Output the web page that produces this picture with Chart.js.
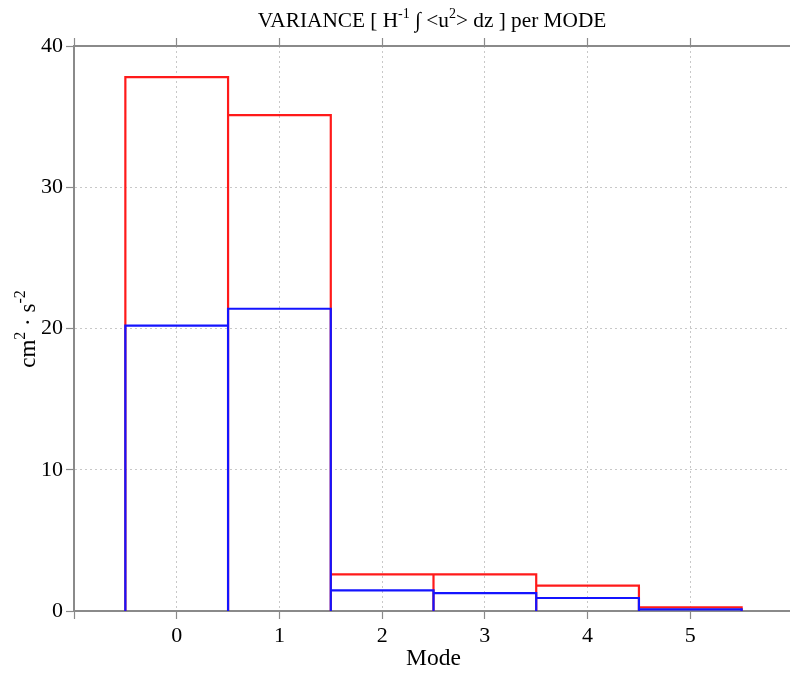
<!DOCTYPE html>
<html lang="en">
<head>
    <meta charset="UTF-8">
    <title>Variance per mode</title>
    <style>
        body {
            margin: 0;
            background: white;
            overflow: hidden;
        }
        canvas {
            display: block;
        }
    </style>
    <script src="https://cdn.jsdelivr.net/npm/chart.js"></script>
</head>
<body>
    <canvas id="modeChart" width="800" height="673"></canvas>

    <script>
        // variance per vertical mode (cm^2 s^-2)
        const modes = [0, 1, 2, 3, 4, 5];
        const totalVariance = [37.8, 35.1, 2.6, 2.6, 1.8, 0.26];
        const partialVariance = [20.2, 21.4, 1.46, 1.27, 0.92, 0.12];
        const yTicks = [0, 10, 20, 30, 40];

        const serif = "'Liberation Serif', 'DejaVu Serif', serif";
        const axisGrey = '#8a8a8a';

        // each bin drawn as an open box: left edge, top, right edge, then a gap
        function binOutlines(values) {
            const pts = [];
            values.forEach((v, i) => {
                const lo = modes[i] - 0.5, hi = modes[i] + 0.5;
                pts.push({ x: lo, y: 0 }, { x: lo, y: v }, { x: hi, y: v }, { x: hi, y: 0 });
                pts.push({ x: hi, y: null });
            });
            return pts;
        }

        // draws a string made of normal and superscript parts
        function drawRich(ctx, parts, x, y, size) {
            const supSize = Math.round(size * 0.68);
            let total = 0;
            parts.forEach(p => {
                ctx.font = (p.sup ? supSize : size) + 'px ' + serif;
                p.w = ctx.measureText(p.t).width;
                total += p.w;
            });
            let cx = x - total / 2;
            ctx.textBaseline = 'alphabetic';
            ctx.textAlign = 'left';
            parts.forEach(p => {
                ctx.font = (p.sup ? supSize : size) + 'px ' + serif;
                ctx.fillText(p.t, cx, p.sup ? y - size * 0.42 : y);
                cx += p.w;
            });
        }

        const labelsPlugin = {
            id: 'richLabels',
            afterDraw(chart) {
                const ctx = chart.ctx;
                ctx.save();
                ctx.fillStyle = '#000';
                drawRich(ctx, [
                    { t: 'VARIANCE [ H' }, { t: '-1', sup: true },
                    { t: ' \u222B <u' }, { t: '2', sup: true },
                    { t: '> dz ] per MODE' }
                ], 432, 27, 21.3);

                ctx.translate(35, 329);
                ctx.rotate(-Math.PI / 2);
                drawRich(ctx, [
                    { t: 'cm' }, { t: '2', sup: true },
                    { t: ' \u00B7 s' }, { t: '-2', sup: true }
                ], 0, 0, 23);
                ctx.restore();
            }
        };

        const lineStyle = {
            borderWidth: 2.2,
            pointRadius: 0,
            fill: false,
            tension: 0,
            spanGaps: false,
            clip: false
        };

        const ctx = document.getElementById('modeChart').getContext('2d');
        new Chart(ctx, {
            type: 'line',
            data: {
                datasets: [
                    Object.assign({
                        label: 'partial',
                        data: binOutlines(partialVariance),
                        borderColor: '#1414ff',
                        order: 0
                    }, lineStyle),
                    Object.assign({
                        label: 'total',
                        data: binOutlines(totalVariance),
                        borderColor: '#ff1a1a',
                        order: 1
                    }, lineStyle)
                ]
            },
            options: {
                responsive: false,
                animation: false,
                layout: { padding: { left: 0, right: 7, top: 0, bottom: 0 } },
                plugins: {
                    legend: { display: false },
                    tooltip: { enabled: false }
                },
                scales: {
                    x: {
                        type: 'linear',
                        position: 'bottom',
                        min: -1,
                        max: 6,
                        afterFit: s => { s.height = 62; },
                        ticks: {
                            stepSize: 1,
                            autoSkip: false,
                            maxRotation: 0,
                            padding: 4,
                            color: '#000',
                            font: { family: serif, size: 22 },
                            callback: v => (modes.includes(v) ? String(v) : '')
                        },
                        grid: {
                            color: '#c8c8c8',
                            tickColor: axisGrey,
                            tickLength: 8,
                            tickWidth: 1.2
                        },
                        border: { color: axisGrey, width: 2, dash: [2, 3] },
                        title: {
                            display: true,
                            text: 'Mode',
                            color: '#000',
                            font: { family: serif, size: 23.5 },
                            padding: { top: 0, bottom: 0 }
                        }
                    },
                    xTop: {
                        type: 'linear',
                        position: 'top',
                        min: -1,
                        max: 6,
                        afterFit: s => { s.height = 46; },
                        ticks: { display: false, stepSize: 1 },
                        grid: {
                            drawOnChartArea: false,
                            tickColor: axisGrey,
                            tickLength: 8,
                            tickWidth: 1.2
                        },
                        border: { color: axisGrey, width: 2 }
                    },
                    y: {
                        type: 'linear',
                        min: 0,
                        max: 40,
                        afterFit: s => { s.width = 74; },
                        afterBuildTicks: s => { s.ticks = yTicks.map(v => ({ value: v })); },
                        ticks: {
                            padding: 3,
                            color: '#000',
                            font: { family: serif, size: 22 }
                        },
                        grid: {
                            color: '#c8c8c8',
                            tickColor: axisGrey,
                            tickLength: 8,
                            tickWidth: 1.2
                        },
                        border: { color: axisGrey, width: 2, dash: [2, 3] }
                    }
                }
            },
            plugins: [labelsPlugin]
        });
    </script>
</body>
</html>
